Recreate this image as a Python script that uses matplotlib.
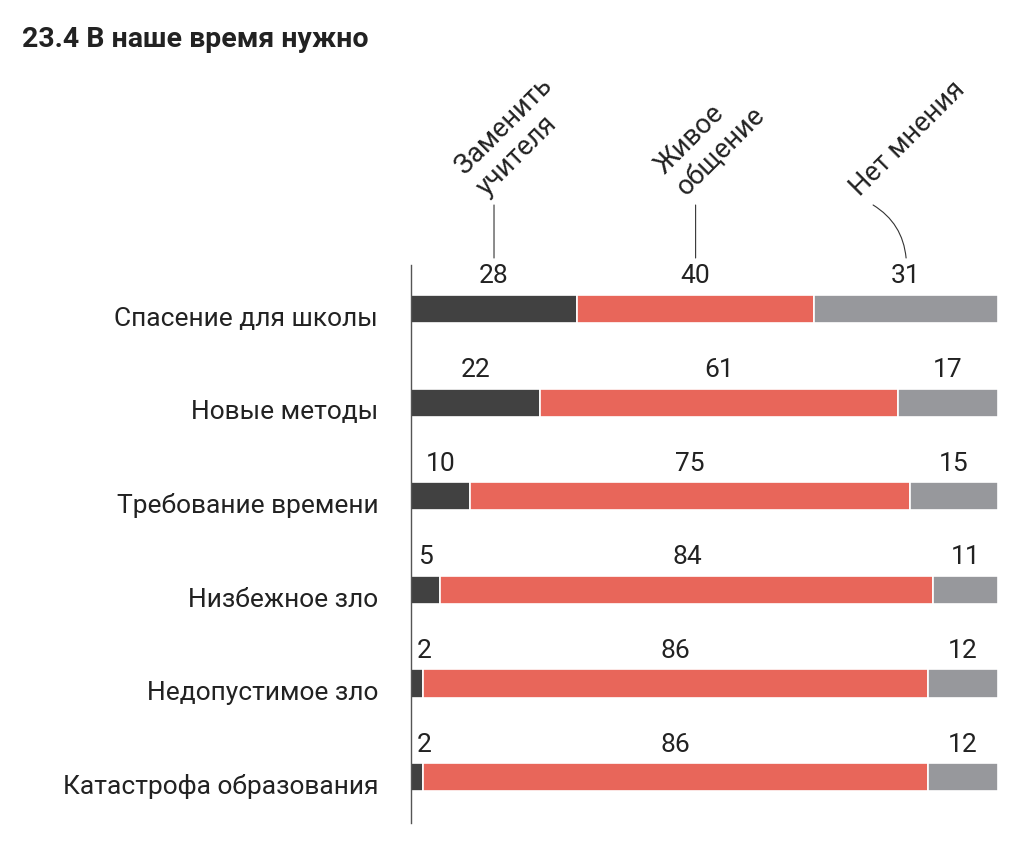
import matplotlib
matplotlib.use("Agg")
import matplotlib.pyplot as plt
from matplotlib import font_manager

title = "23.4 В наше время нужно"
categories = ["Спасение для школы", "Новые методы", "Требование времени",
              "Низбежное зло", "Недопустимое зло", "Катастрофа образования"]
series_names = ["Заменить\nучителя", "Живое\nобщение", "Нет мнения"]
replace_teacher = [28, 22, 10, 5, 2, 2]
live_contact = [40, 61, 75, 84, 86, 86]
no_opinion = [31, 17, 15, 11, 12, 12]
colors = ["#414141", "#e8665a", "#97989c"]

available = {f.name for f in font_manager.fontManager.ttflist}
num_font = "Liberation Sans Narrow" if "Liberation Sans Narrow" in available else "Roboto"
txt_font = "Roboto"

W, H, DPI = 1026, 849, 100
fig = plt.figure(figsize=(W / DPI, H / DPI), dpi=DPI)
ax = fig.add_axes([411 / W, 1 - 823 / H, 587 / W, (823 - 265) / H])

series = [replace_teacher, live_contact, no_opinion]
n = len(categories)
ys = list(range(n))
bar_h = 0.30

for i, y in enumerate(ys):
    vals = [s[i] for s in series]
    tot = sum(vals)
    left = 0.0
    for j, v in enumerate(vals):
        w = v / tot * 100
        ax.barh(y, w, left=left, height=bar_h, color=colors[j],
                edgecolor="white", linewidth=1.2)
        cx = max(left + w / 2, 2.2)
        ax.text(cx, y - bar_h / 2 - 0.07, str(v), ha="center", va="bottom",
                fontsize=19, family=num_font, color="#222222")
        left += w
    ax.text(-5.6, y + 0.18, categories[i], ha="right", va="baseline",
            fontsize=19, family=txt_font, color="#222222")

ax.set_xlim(0, 100)
ax.set_ylim(n - 1 + 0.49, -0.47)
for s in ["top", "right", "bottom"]:
    ax.spines[s].set_visible(False)
ax.spines["left"].set_color("#555555")
ax.spines["left"].set_linewidth(1.0)
ax.set_xticks([])
ax.set_yticks([])

# header labels with leader lines (above first row)
row0 = [s[0] for s in series]
tot0 = sum(row0)
cum = 0.0
centers = []
for v in row0:
    w = v / tot0 * 100
    centers.append(cum + w / 2)
    cum += w
pt = 72 / DPI
ytip = -0.47 - 7 / 93.6
header_cfg = [
    dict(dx=0, rad=0.0, tdx=-3),
    dict(dx=0, rad=0.0, tdx=-5),
    dict(dx=-33, rad=-0.25, tdx=-9),
]
for j, name in enumerate(series_names):
    cfg = header_cfg[j]
    ax.annotate("", xy=(centers[j], ytip), xycoords="data",
                xytext=(cfg["dx"] * pt, 53 * pt), textcoords="offset points",
                arrowprops=dict(arrowstyle="-", color="#333333", lw=0.8,
                                shrinkA=0, shrinkB=0,
                                connectionstyle=f"arc3,rad={cfg['rad']}"),
                annotation_clip=False)
    ax.annotate(name, xy=(centers[j], ytip), xycoords="data",
                xytext=((cfg["dx"] + cfg["tdx"]) * pt, 57 * pt),
                textcoords="offset points", rotation=45,
                rotation_mode="anchor", ha="left", va="bottom",
                multialignment="left", linespacing=1.15,
                fontsize=19.5, family=txt_font, color="#222222",
                annotation_clip=False)

fig.text(22 / W, 1 - 47 / H, title, ha="left", va="baseline",
         fontsize=20.5, fontweight="bold", family=txt_font, color="#222222")

fig.savefig("out.png", dpi=DPI)
